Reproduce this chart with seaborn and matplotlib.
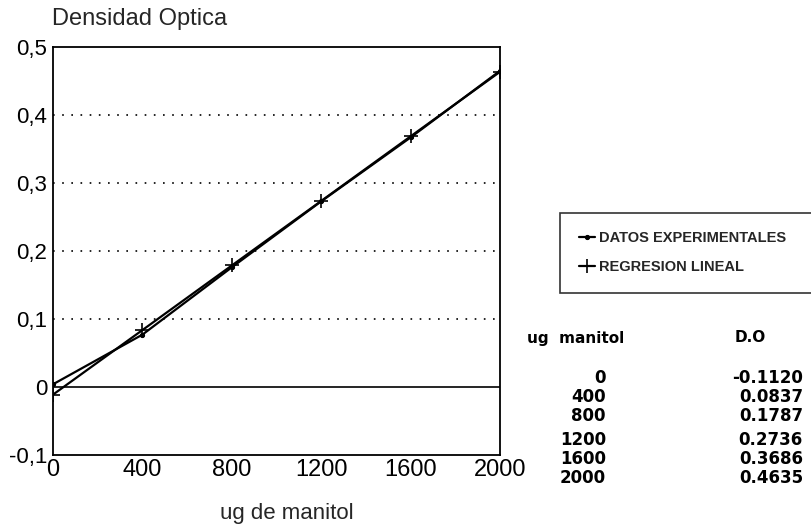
import matplotlib
matplotlib.use("Agg")
import matplotlib.pyplot as plt
import seaborn as sns
import pandas as pd
from matplotlib.ticker import FuncFormatter

# ---- data ----
ug_manitol = [0, 400, 800, 1200, 1600, 2000]
datos_experimentales = [0.004, 0.077, 0.176, 0.273, 0.367, 0.465]
regresion_lineal = [-0.0112, 0.0837, 0.1787, 0.2736, 0.3686, 0.4635]
tabla_ug = ["0", "400", "800", "1200", "1600", "2000"]
tabla_do = ["-0.1120", "0.0837", "0.1787", "0.2736", "0.3686", "0.4635"]
y_ticks = [-0.1, 0.0, 0.1, 0.2, 0.3, 0.4, 0.5]
x_ticks = [0, 400, 800, 1200, 1600, 2000]

sns.set_style("white")
plt.rcParams["font.family"] = ["Liberation Sans", "DejaVu Sans"]

W, H = 812, 528
fig = plt.figure(figsize=(W / 100, H / 100), dpi=100)
ax = fig.add_axes([53 / W, 1 - 455 / H, 447 / W, (455 - 47) / H])

df = pd.DataFrame({"x": ug_manitol, "exp": datos_experimentales, "reg": regresion_lineal})

# grid lines
for yv in [0.1, 0.2, 0.3, 0.4]:
    ax.axhline(yv, color="black", lw=1.2, ls=(0, (1, 4.5)), zorder=1)
ax.axhline(0, color="black", lw=1.2, zorder=1)

sns.lineplot(data=df, x="x", y="exp", ax=ax, color="black", lw=1.6,
             marker="o", markersize=3, markeredgecolor="black",
             label="DATOS EXPERIMENTALES", zorder=3)
sns.lineplot(data=df, x="x", y="reg", ax=ax, color="black", lw=1.6,
             marker="+", markersize=10, markeredgewidth=1.2,
             markeredgecolor="black", markerfacecolor="black",
             label="REGRESION LINEAL", zorder=3)

ax.set_xlim(0, 2000)
ax.set_ylim(-0.1, 0.5)
ax.set_xticks(x_ticks)
ax.set_yticks(y_ticks)
ax.yaxis.set_major_formatter(FuncFormatter(
    lambda v, p: "0" if abs(v) < 1e-9 else f"{v:.1f}".replace(".", ",")))
ax.tick_params(axis="both", length=0, labelsize=16, colors="black")
ax.tick_params(axis="x", pad=3, labelsize=17)
ax.tick_params(axis="y", pad=4)
ax.set_xlabel("")
ax.set_ylabel("")
for s in ax.spines.values():
    s.set_visible(True)
    s.set_color("black")
    s.set_linewidth(1.3)

# titles
fig.text(52 / W, 1 - 19 / H, "Densidad Optica", fontsize=17, ha="left", va="center")
fig.text(287 / W, 1 - 513 / H, "ug de manitol", fontsize=16, ha="center", va="center")

# legend
leg = ax.legend(loc="lower left",
                bbox_to_anchor=(560 / W, 1 - 293 / H, 300 / W, 79 / H),
                bbox_transform=fig.transFigure, mode="expand",
                borderaxespad=0.0,
                frameon=True, fancybox=False, edgecolor="black",
                prop={"weight": "bold", "size": 10.5}, handlelength=1.1,
                handletextpad=0.3, borderpad=1.3, labelspacing=1.0)
leg.get_frame().set_linewidth(1.2)

# table
hfont = dict(family=["DejaVu Sans"], fontweight="bold", fontsize=11, color="black")
tfont = dict(family=["DejaVu Sans"], fontweight="bold", fontsize=12, color="black")
fig.text(527 / W, 1 - 338 / H, "ug  manitol", ha="left", va="center", **hfont)
fig.text(750 / W, 1 - 338 / H, "D.O", ha="center", va="center", **hfont)
row_y = [378, 397, 416, 440, 459, 478]
for i, (u, d) in enumerate(zip(tabla_ug, tabla_do)):
    fig.text(606 / W, 1 - row_y[i] / H, u, ha="right", va="center", **tfont)
    fig.text(803 / W, 1 - row_y[i] / H, d, ha="right", va="center", **tfont)

fig.savefig("out.png", dpi=100)
